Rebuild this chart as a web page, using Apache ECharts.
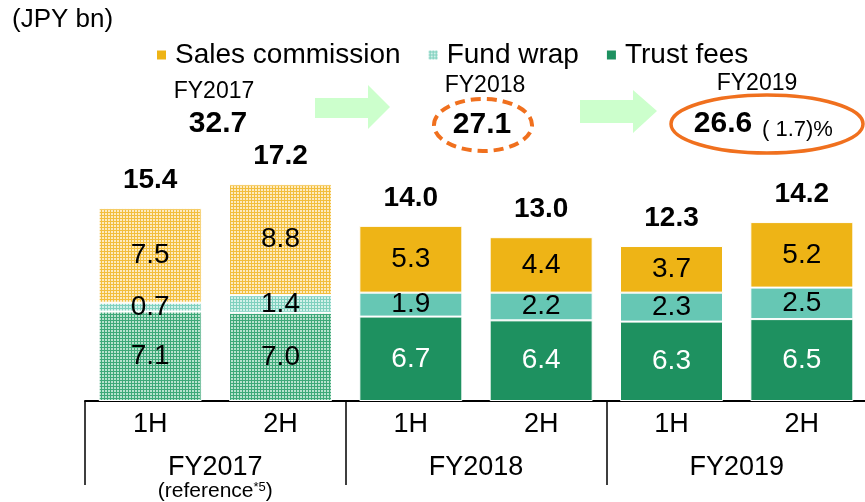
<!DOCTYPE html>
<html>
<head>
<meta charset="utf-8">
<script src="https://cdn.jsdelivr.net/npm/echarts@6/dist/echarts.min.js"></script>
<style>
  html, body { margin: 0; padding: 0; background: #fff; }
  #main { width: 865px; height: 502px; }
</style>
</head>
<body>
<div id="main"></div>
<script>
// 数据
var halves = ['1H', '2H', '1H', '2H', '1H', '2H']
var years = ['FY2017', 'FY2018', 'FY2019']
var salesCommission = [7.5, 8.8, 5.3, 4.4, 3.7, 5.2]
var fundWrap = [0.7, 1.4, 1.9, 2.2, 2.3, 2.5]
var trustFees = [7.1, 7.0, 6.7, 6.4, 6.3, 6.5]
var totals = ['15.4', '17.2', '14.0', '13.0', '12.3', '14.2']
var reference = [true, true, false, false, false, false]  // FY2017 参考值, 网格填充
var yearTotals = ['32.7', '27.1', '26.6']
var yoyText = '( 1.7)%'

var FONT = 'Liberation Sans, Arial, sans-serif'
var ORANGE = '#F0701E'

// 网格填充图案
function checker(c1, c2) {
  var cv = document.createElement('canvas')
  cv.width = 3
  cv.height = 3
  var ctx = cv.getContext('2d')
  ctx.fillStyle = c1
  ctx.fillRect(0, 0, 3, 3)
  ctx.fillStyle = c2
  ctx.fillRect(0, 0, 2, 2)
  return { image: cv, repeat: 'repeat' }
}

var solid = { sales: '#EEB416', fund: '#66C7B4', trust: '#1E9160' }
var hatch = {
  sales: checker('#F2BE3C', '#FDEBC0'),
  fund: checker('#7FD0BE', '#D2F1EA'),
  trust: checker('#3EA878', '#B8E2CE')
}

function buildData(values, key, normalLabelColor) {
  return values.map(function (v, i) {
    return {
      value: v,
      itemStyle: { color: reference[i] ? hatch[key] : solid[key] },
      label: { color: reference[i] ? '#000' : normalLabelColor }
    }
  })
}

var stackTops = salesCommission.map(function (v, i) {
  return [i, v + fundWrap[i] + trustFees[i]]
})

var segLabel = {
  show: true,
  position: 'inside',
  fontFamily: FONT,
  fontSize: 28,
  color: '#000',
  formatter: function (p) { return p.value.toFixed(1) }
}

var myChart = echarts.init(document.getElementById('main'), null, { renderer: 'canvas' })

myChart.setOption({
  animation: false,
  grid: { left: 85, right: -2, top: 149, bottom: 101, outerBoundsMode: 'none' },
  legend: {
    left: 150,
    top: 36,
    itemWidth: 11,
    itemHeight: 11,
    itemGap: 26,
    icon: 'rect',
    textStyle: { fontFamily: FONT, fontSize: 28, color: '#000', padding: [0, 0, 0, 3] },
    data: [
      { name: 'Sales commission' },
      { name: 'Fund wrap', itemStyle: { color: hatch.fund } },
      { name: 'Trust fees' }
    ]
  },
  xAxis: [{
    type: 'category',
    data: halves,
    axisLine: { lineStyle: { color: '#000', width: 2 } },
    axisTick: { show: false },
    axisLabel: { fontFamily: FONT, fontSize: 27, color: '#000', margin: 10, lineHeight: 27 }
  }, {
    type: 'category',
    data: years,
    position: 'bottom',
    axisLine: { show: false },
    axisTick: { show: true, length: 84, lineStyle: { color: '#000', width: 1.5 } },
    axisLabel: {
      margin: 53,
      color: '#000',
      formatter: function (v) {
        if (v === 'FY2017') return '{a|FY2017}\n{b|(reference}{c|*5}{b|)}'
        return '{a|' + v + '}'
      },
      rich: {
        a: { fontFamily: FONT, fontSize: 27, lineHeight: 27, color: '#000' },
        b: { fontFamily: FONT, fontSize: 21, lineHeight: 20, color: '#000' },
        c: { fontFamily: FONT, fontSize: 13, lineHeight: 20, color: '#000', verticalAlign: 'top', padding: [0, 0, 8, 0] }
      }
    }
  }],
  yAxis: { type: 'value', min: 0, max: 20, show: false },
  series: [{
    name: 'Trust fees',
    type: 'bar',
    stack: 'a',
    barWidth: 103,
    color: solid.trust,
    itemStyle: { borderColor: '#fff', borderWidth: 1 },
    label: segLabel,
    data: buildData(trustFees, 'trust', '#fff')
  }, {
    name: 'Fund wrap',
    type: 'bar',
    stack: 'a',
    color: solid.fund,
    itemStyle: { borderColor: '#fff', borderWidth: 1 },
    label: segLabel,
    data: buildData(fundWrap, 'fund', '#000')
  }, {
    name: 'Sales commission',
    type: 'bar',
    stack: 'a',
    color: solid.sales,
    itemStyle: { borderColor: '#fff', borderWidth: 1 },
    label: segLabel,
    data: buildData(salesCommission, 'sales', '#000')
  }, {
    name: 'total',
    type: 'scatter',
    symbolSize: 1,
    itemStyle: { color: 'transparent', opacity: 1 },
    label: {
      show: true,
      position: 'top',
      distance: 13,
      fontFamily: FONT,
      fontSize: 28,
      fontWeight: 'bold',
      color: '#000',
      opacity: 1,
      formatter: function (p) { return totals[p.dataIndex] }
    },
    data: stackTops
  }],
  graphic: [
    { type: 'text', left: 12, top: 7, style: { text: '(JPY bn)', font: '26px ' + FONT, fill: '#000' } },
    // 箭头
    { type: 'polygon', shape: { points: [[315, 98], [368, 98], [368, 85], [390, 107], [368, 129], [368, 118], [315, 118]] }, style: { fill: '#CCFFCC' } },
    { type: 'polygon', shape: { points: [[580, 100], [633, 100], [633, 90], [657, 111], [633, 133], [633, 123], [580, 123]] }, style: { fill: '#CCFFCC' } },
    // 年度合计
    { type: 'text', x: 214, y: 92, style: { text: years[0], font: '23px ' + FONT, fill: '#000', align: 'center', verticalAlign: 'middle' } },
    { type: 'text', x: 218, y: 124, style: { text: yearTotals[0], font: 'bold 30px ' + FONT, fill: '#000', align: 'center', verticalAlign: 'middle' } },
    { type: 'text', x: 485, y: 86, style: { text: years[1], font: '23px ' + FONT, fill: '#000', align: 'center', verticalAlign: 'middle' } },
    { type: 'ellipse', shape: { cx: 483, cy: 125, rx: 49, ry: 26 }, style: { fill: null, stroke: ORANGE, lineWidth: 4, lineDash: [10, 6] } },
    { type: 'text', x: 482, y: 125, style: { text: yearTotals[1], font: 'bold 30px ' + FONT, fill: '#000', align: 'center', verticalAlign: 'middle' } },
    { type: 'text', x: 757, y: 84, style: { text: years[2], font: '23px ' + FONT, fill: '#000', align: 'center', verticalAlign: 'middle' } },
    { type: 'ellipse', shape: { cx: 767, cy: 124, rx: 96, ry: 29 }, style: { fill: null, stroke: ORANGE, lineWidth: 3.5 } },
    { type: 'text', x: 723, y: 124, style: { text: yearTotals[2], font: 'bold 30px ' + FONT, fill: '#000', align: 'center', verticalAlign: 'middle' } },
    { type: 'text', x: 762, y: 130, style: { text: yoyText, font: '22px ' + FONT, fill: '#000', align: 'left', verticalAlign: 'middle' } }
  ]
})
</script>
</body>
</html>
